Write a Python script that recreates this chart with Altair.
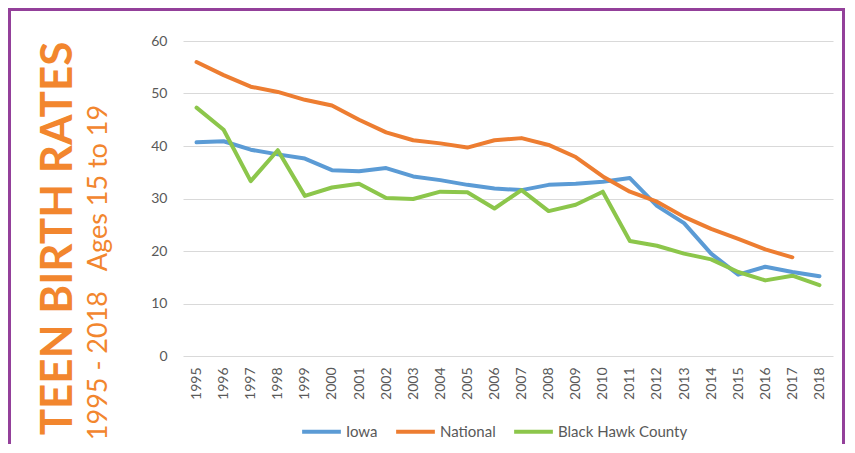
import altair as alt
import pandas as pd

years = [str(y) for y in range(1995, 2019)]
iowa = [40.7, 40.9, 39.3, 38.4, 37.6, 35.4, 35.2, 35.8, 34.2, 33.5, 32.6, 31.9,
        31.6, 32.6, 32.8, 33.2, 33.9, 28.6, 25.3, 19.5, 15.5, 17.0, 16.0, 15.2]
national = [56.0, 53.5, 51.3, 50.3, 48.8, 47.7, 45.0, 42.6, 41.1, 40.5, 39.7, 41.1,
            41.5, 40.2, 37.9, 34.2, 31.3, 29.4, 26.5, 24.2, 22.3, 20.3, 18.8]
black_hawk = [47.3, 43.1, 33.3, 39.2, 30.5, 32.1, 32.8, 30.1, 29.9, 31.3, 31.2, 28.1,
              31.6, 27.6, 28.8, 31.3, 21.9, 21.0, 19.5, 18.4, 16.0, 14.4, 15.3, 13.5]
series_names = ["Iowa", "National", "Black Hawk County"]
series_colors = ["#5B9BD5", "#ED7D31", "#8CC64B"]
title_main = "TEEN BIRTH RATES"
title_sub = "1995 - 2018\u00a0\u00a0 Ages 15 to 19"

rows = []
for name, vals in zip(series_names, [iowa, national, black_hawk]):
    for i, v in enumerate(vals):
        rows.append({"Year": years[i], "Rate": v, "Series": name, "order": series_names.index(name)})
df = pd.DataFrame(rows)

FONT = "Lato"
GRAY = "#595959"
ORANGE = "#F2862E"

lines = alt.Chart(df).mark_line(strokeWidth=4, strokeCap="round", strokeJoin="round").encode(
    x=alt.X("Year:O", sort=years, scale=alt.Scale(type="point", padding=0.5),
            axis=alt.Axis(title=None, labelAngle=-90, labelAlign="right", labelBaseline="middle",
                          ticks=False, tickSize=0, domain=False, labelPadding=11,
                          labelFont=FONT, labelFontSize=14, labelColor=GRAY)),
    y=alt.Y("Rate:Q", scale=alt.Scale(domain=[0, 60], nice=False),
            axis=alt.Axis(title=None, values=[0, 10, 20, 30, 40, 50, 60], ticks=False, tickSize=0,
                          domain=False, labelPadding=16, labelFont=FONT, labelFontSize=14,
                          labelColor=GRAY, gridColor="#D9D9D9", gridWidth=1.2)),
    color=alt.Color("Series:N", sort=series_names,
                    scale=alt.Scale(domain=series_names, range=series_colors),
                    legend=alt.Legend(title=None, orient="none", legendX=117, legendY=369,
                                      direction="horizontal", symbolType="stroke",
                                      symbolSize=1500, symbolStrokeWidth=4,
                                      labelFont=FONT, labelFontSize=15, labelColor=GRAY,
                                      labelOffset=3, columnPadding=10)),
    order=alt.Order("order:Q"),
)

tdf = pd.DataFrame({"t": [title_main]})
main_text = alt.Chart(tdf).mark_text(angle=270, align="center", baseline="alphabetic",
                                     font=FONT, fontWeight="bold", fontSize=44, color=ORANGE).encode(
    x=alt.value(-111), y=alt.value(197.5), text="t:N")

sdf = pd.DataFrame({"t": [title_sub]})
sub_text = alt.Chart(sdf).mark_text(angle=270, align="center", baseline="alphabetic",
                                    font=FONT, fontSize=27, color=ORANGE).encode(
    x=alt.value(-76), y=alt.value(231.5), text="t:N")

border = alt.Chart(pd.DataFrame({"a": [0]})).mark_rect(filled=False, stroke="#93409A", strokeWidth=3,
                                                        fillOpacity=0).encode(
    x=alt.value(-173.5), x2=alt.value(660.5), y=alt.value(-31.5), y2=alt.value(440))

chart = alt.layer(border, lines, main_text, sub_text).properties(
    width=650, height=315,
    autosize=alt.AutoSizeParams(type="none"),
    padding={"left": 175, "top": 33, "right": 12, "bottom": 88},
).configure_view(stroke=None)

chart.save("out.html", embed_options={"renderer": "svg", "actions": False})
